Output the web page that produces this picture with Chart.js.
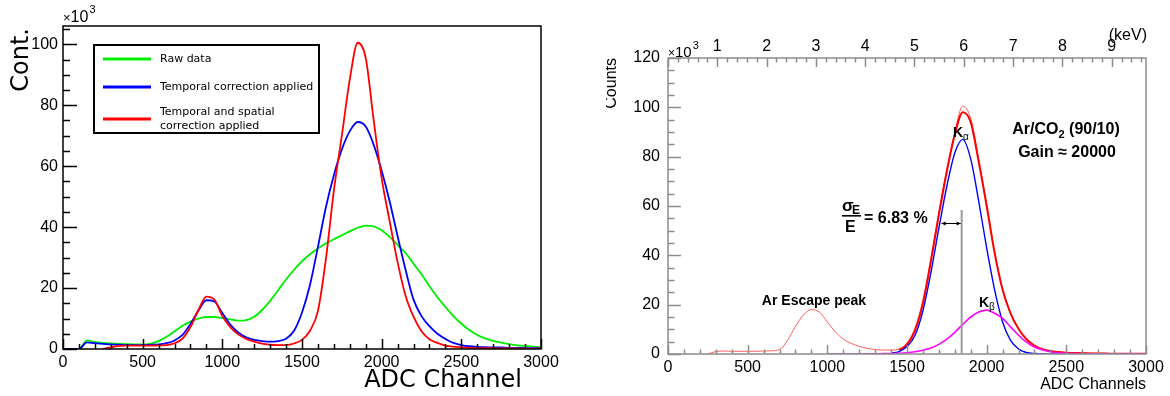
<!DOCTYPE html>
<html>
<head>
<meta charset="utf-8">
<title>ADC spectra</title>
<script src="https://cdn.jsdelivr.net/npm/chart.js@4.4.1/dist/chart.umd.min.js"></script>
<style>
  html, body { margin: 0; padding: 0; background: #fff; }
  body { width: 1170px; height: 396px; position: relative; overflow: hidden; }
  .panel { position: absolute; top: 0; height: 396px; }
  #leftWrap  { left: 0;     width: 606px; }
  #rightWrap { left: 606px; width: 564px; overflow: hidden; }
</style>
</head>
<body>
<div class="panel" id="leftWrap"><canvas id="leftChart" width="606" height="396"></canvas></div>
<div class="panel" id="rightWrap"><canvas id="rightChart" width="564" height="396"></canvas></div>
<script>
/* ═══════════════════════════════════════════
   ADC SPECTRA — two ROOT-style panels
═══════════════════════════════════════════ */

/* ── Data (counts in units of 10^3) ── */
const adcBins = [
  0, 50, 100, 150, 200, 250, 300, 350, 400, 450,
  500, 550, 600, 650, 700, 750, 800, 850, 900, 950,
  1000, 1050, 1100, 1150, 1200, 1250, 1300, 1350, 1400, 1450,
  1500, 1550, 1600, 1650, 1700, 1750, 1800, 1850, 1900, 1950,
  2000, 2050, 2100, 2150, 2200, 2250, 2300, 2350, 2400, 2450,
  2500, 2550, 2600, 2650, 2700, 2750, 2800, 2850, 2900, 2950,
  3000
];

// left panel
const rawData = [
  0, 0, 0, 2.8, 2.3, 2.0, 1.8, 1.7, 1.6, 1.5,
  1.5, 1.8, 2.6, 4.0, 5.8, 7.6, 9.0, 10.0, 10.5, 10.5,
  10.1, 9.7, 9.3, 9.5, 10.6, 12.8, 15.8, 19.3, 22.8, 26.0,
  28.8, 31.1, 33.0, 34.6, 36.0, 37.3, 38.6, 39.8, 40.5, 40.2,
  39.0, 36.8, 34.2, 31.5, 28.0, 24.5, 20.6, 17.0, 13.8, 10.8,
  8.3, 6.2, 4.6, 3.5, 2.7, 2.1, 1.6, 1.2, 1.0, 0.8,
  0.6
];
const temporalCorr = [
  0, 0, 0, 2.2, 1.9, 1.7, 1.5, 1.4, 1.3, 1.3,
  1.3, 1.4, 1.5, 1.9, 2.8, 4.6, 8.2, 12.6, 16.0, 15.6,
  11.8, 8.0, 5.4, 3.8, 3.0, 2.6, 2.4, 2.6, 3.4, 6.0,
  12.0, 21.0, 33.5, 46.5, 57.0, 65.5, 71.5, 74.5, 73.0, 67.0,
  58.5, 48.5, 37.0, 26.0, 16.2, 10.8, 7.5, 5.0, 3.3, 2.0,
  1.3, 0.9, 0.7, 0.6, 0.5, 0.5, 0.4, 0.4, 0.3, 0.3,
  0.3
];
const temporalSpatialCorr = [
  null, null, null, null, null, 0, 0.5, 1.0, 1.1, 1.1,
  1.1, 1.1, 1.2, 1.3, 1.9, 3.4, 7.2, 12.8, 17.2, 16.2,
  10.8, 7.2, 4.8, 3.3, 2.4, 1.8, 1.4, 1.3, 1.3, 1.8,
  3.0, 6.0, 12.5, 29.5, 52.0, 70.0, 88.5, 100.5, 95.5, 75.0,
  56.0, 42.0, 28.5, 17.5, 10.6, 5.8, 3.2, 2.0, 1.1, 0.8,
  0.5, 0.4, 0.3, 0.3, 0.2, 0.2, 0.2, 0.2, 0.1, 0.1,
  0.1
];

// right panel
const measured = [
  null, null, null, null, null, 0, 1.0, 1.2, 1.1, 1.1,
  1.1, 1.1, 1.2, 1.3, 1.8, 5.5, 11.2, 15.8, 18.0, 17.0,
  13.0, 9.0, 6.0, 4.3, 3.1, 2.3, 1.8, 1.6, 1.6, 2.0,
  4.5, 10.5, 22.0, 39.0, 57.5, 75.0, 90.0, 100.5, 95.5, 79.0,
  61.0, 41.5, 26.5, 16.5, 10.2, 6.0, 3.5, 2.0, 1.3, 0.9,
  0.6, 0.5, 0.4, 0.3, 0.3, 0.2, 0.2, 0.2, 0.1, 0.1,
  0.1
];
const fitTotal = [
  null, null, null, null, null, null, null, null, null, null,
  null, null, null, null, null, null, null, null, null, null,
  null, null, null, null, null, null, null, null, null, 1.6,
  3.8, 9.5, 20.5, 37.5, 56.5, 74.0, 89.0, 98.0, 94.0, 78.0,
  60.0, 41.0, 26.0, 16.5, 10.2, 6.0, 3.4, 1.9, 1.2, 0.8,
  0.5, 0.4, 0.3, 0.2, 0.2, 0.2, 0.1, 0.1, 0.1, 0.1,
  0.1
];
const fitKalpha = [
  null, null, null, null, null, null, null, null, null, null,
  null, null, null, null, null, null, null, null, null, null,
  null, null, null, null, null, null, null, null, 0.3, 1.0,
  3.0, 7.5, 17.5, 33.0, 51.0, 68.0, 81.5, 87.0, 79.0, 62.0,
  43.0, 26.0, 13.0, 5.5, 2.0, 0.6, 0.2, 0.1, 0, 0,
  0, null, null, null, null, null, null, null, null, null,
  null
];
const fitKbeta = [
  null, null, null, null, null, null, null, null, null, null,
  null, null, null, null, null, null, null, null, null, null,
  0, 0, 0, 0, 0, 0.05, 0.1, 0.15, 0.2, 0.3,
  0.5, 0.9, 1.5, 2.4, 3.9, 6.0, 8.8, 12.0, 15.0, 17.0,
  17.8, 16.5, 14.4, 11.0, 7.6, 4.8, 2.8, 1.7, 0.9, 0.5,
  0.3, 0.2, 0.1, 0.1, 0.1, 0.1, 0.1, 0.1, 0.1, 0.1,
  0.1
];

/* ── Tick labels ── */
const adcTicks    = [0, 500, 1000, 1500, 2000, 2500, 3000];
const leftYTicks  = [0, 20, 40, 60, 80, 100];
const rightYTicks = [0, 20, 40, 60, 80, 100, 120];
const kevTicks    = [1, 2, 3, 4, 5, 6, 7, 8, 9];
const ADC_PER_KEV = 309.4;

/* ── Fit result shown on the right panel ── */
const KA_MEAN = 1843;        // ADC
const KA_RES  = 0.0683;      // sigma_E / E

const RX = 606;              // left edge of right canvas on the page
const SANS = "'Liberation Sans', Arial, sans-serif";
const DEJA = "'DejaVu Sans', sans-serif";

const pts = arr => adcBins.map((x, i) => ({ x, y: arr[i] }));

/* ── ROOT-like frame with inward ticks ── */
function rootAxes(cfg) {
  return {
    id: 'rootAxes',
    afterDatasetsDraw(chart) {
      const { ctx, chartArea: a, scales } = chart;
      const seg = (x1, y1, x2, y2) => { ctx.beginPath(); ctx.moveTo(x1, y1); ctx.lineTo(x2, y2); ctx.stroke(); };
      ctx.save();
      ctx.strokeStyle = cfg.color;
      ctx.lineWidth = cfg.width;
      ctx.strokeRect(a.left, a.top, a.right - a.left, a.bottom - a.top);

      for (let v = 0; v <= 3000; v += 100) {
        const px = Math.round(scales.x.getPixelForValue(v)) + 0.5;
        seg(px, a.bottom, px, a.bottom - (v % 500 ? cfg.xLen / 2 : cfg.xLen));
      }
      for (let v = 0; v <= scales.y.max; v += 5) {
        const py = Math.round(scales.y.getPixelForValue(v)) + 0.5;
        seg(a.left, py, a.left + (v % 20 ? cfg.yLen / 2 : cfg.yLen), py);
      }
      if (scales.kev) {
        for (let i = 0; i * 0.2 <= scales.kev.max; i++) {
          const px = Math.round(scales.kev.getPixelForValue(i * 0.2)) + 0.5;
          seg(px, a.top, px, a.top + (i % 5 ? cfg.xLen / 2 : cfg.xLen));
        }
      }
      ctx.restore();
    }
  };
}

// "×10^3" multiplier
function drawExp(ctx, x, base, size) {
  ctx.textAlign = 'left';
  ctx.textBaseline = 'alphabetic';
  ctx.font = `${Math.round(size * 0.8)}px ${SANS}`;
  ctx.fillText('×', x, base);
  x += ctx.measureText('×').width;
  ctx.font = `${size}px ${SANS}`;
  ctx.fillText('10', x, base);
  x += ctx.measureText('10').width + 1;
  ctx.font = `${Math.round(size * 0.7)}px ${SANS}`;
  ctx.fillText('3', x, base - size * 0.55);
}

const baseOptions = (padding) => ({
  responsive: false,
  animation: false,
  devicePixelRatio: 1,
  layout: { padding },
  plugins: { legend: { display: false }, tooltip: { enabled: false } },
  elements: { point: { radius: 0 } }
});

const tickFont = { family: SANS, size: 16 };

/* ── Left panel ── */
const leftSeries = [
  { label: 'Raw data',                      data: rawData,             color: '#00ee00' },
  { label: 'Temporal correction applied',   data: temporalCorr,        color: '#0000ff' },
  { label: 'Temporal and spatial\ncorrection applied', data: temporalSpatialCorr, color: '#ff0000' }
];

const leftText = {
  id: 'leftText',
  afterDraw(chart) {
    const ctx = chart.ctx;
    ctx.save();
    ctx.fillStyle = '#000';
    drawExp(ctx, 63, 22, 16);

    ctx.font = `24px ${DEJA}`;
    ctx.textBaseline = 'alphabetic';
    ctx.save();
    ctx.translate(28, 28);
    ctx.rotate(-Math.PI / 2);
    ctx.textAlign = 'right';
    ctx.fillText('Cont.', 0, 0);
    ctx.restore();
    ctx.textAlign = 'right';
    ctx.fillText('ADC Channel', 522, 387);

    // legend box
    ctx.fillStyle = '#fff';
    ctx.fillRect(94, 45, 225, 88);
    ctx.strokeStyle = '#000';
    ctx.lineWidth = 2;
    ctx.strokeRect(94, 45, 225, 88);
    const rowY = [59, 87, 119];
    ctx.font = `11px ${DEJA}`;
    ctx.textAlign = 'left';
    ctx.textBaseline = 'middle';
    leftSeries.forEach((s, i) => {
      ctx.strokeStyle = s.color;
      ctx.lineWidth = 3;
      ctx.beginPath(); ctx.moveTo(103, rowY[i]); ctx.lineTo(151, rowY[i]); ctx.stroke();
      ctx.fillStyle = '#000';
      const lines = s.label.split('\n');
      lines.forEach((t, j) => ctx.fillText(t, 160, rowY[i] + (j - (lines.length - 1) / 2) * 14));
    });
    ctx.restore();
  }
};

new Chart(document.getElementById('leftChart'), {
  type: 'line',
  data: {
    datasets: leftSeries.map((s, i) => ({
      label: s.label,
      data: pts(s.data),
      borderColor: s.color,
      borderWidth: 1.8,
      cubicInterpolationMode: 'monotone',
      order: leftSeries.length - i
    }))
  },
  options: {
    ...baseOptions({ left: 0, right: 65, top: 26, bottom: 0 }),
    scales: {
      x: {
        type: 'linear', position: 'bottom', min: 0, max: 3000,
        afterBuildTicks: ax => { ax.ticks = adcTicks.map(value => ({ value })); },
        afterFit: ax => { ax.height = 47; },
        grid: { display: false, drawTicks: false }, border: { display: false },
        ticks: { padding: 4, font: tickFont, color: '#000', maxRotation: 0, callback: v => String(v) }
      },
      y: {
        type: 'linear', position: 'left', min: 0, max: 106,
        afterBuildTicks: ax => { ax.ticks = leftYTicks.map(value => ({ value })); },
        afterFit: ax => { ax.width = 63; },
        grid: { display: false, drawTicks: false }, border: { display: false },
        ticks: { padding: 5, font: tickFont, color: '#000', callback: v => String(v) }
      }
    }
  },
  plugins: [rootAxes({ color: '#000', width: 1.5, xLen: 10, yLen: 14 }), leftText]
});

/* ── Right panel ── */
const rightText = {
  id: 'rightText',
  afterDraw(chart) {
    const { ctx, scales: { x, y } } = chart;
    const L = v => v - RX;
    ctx.save();
    ctx.fillStyle = '#000';

    drawExp(ctx, L(668), 57, 15);

    // axis titles
    ctx.font = `16px ${SANS}`;
    ctx.textBaseline = 'alphabetic';
    ctx.textAlign = 'right';
    ctx.fillText('ADC Channels', L(1146), 389);
    ctx.fillText('(keV)', L(1147), 40);
    ctx.save();
    ctx.translate(L(616), 58);        // partly cut by the pad edge, as in the original
    ctx.rotate(-Math.PI / 2);
    ctx.fillText('Counts', 0, 0);
    ctx.restore();

    // gas / gain
    ctx.font = `bold 16px ${SANS}`;
    const w1 = ctx.measureText('Ar/CO').width;
    ctx.font = `bold 11px ${SANS}`;
    const w2 = ctx.measureText('2').width;
    ctx.font = `bold 16px ${SANS}`;
    const w3 = ctx.measureText(' (90/10)').width;
    let gx = L(1066) - (w1 + w2 + w3) / 2;
    ctx.textAlign = 'left';
    ctx.fillText('Ar/CO', gx, 134);
    ctx.font = `bold 11px ${SANS}`;
    ctx.fillText('2', gx + w1, 138);
    ctx.font = `bold 16px ${SANS}`;
    ctx.fillText(' (90/10)', gx + w1 + w2, 134);
    ctx.textAlign = 'center';
    ctx.fillText('Gain \u2248 20000', L(1067), 157);

    // peak labels
    const kLabel = (px, base, sub) => {
      ctx.textAlign = 'left';
      ctx.font = `bold 14px ${SANS}`;
      ctx.fillText('K', px, base);
      const kw = ctx.measureText('K').width;
      ctx.font = `10px ${SANS}`;
      ctx.fillText(sub, px + kw, base + 3);
    };
    kLabel(L(953), 137, '\u03b1');
    kLabel(L(979), 307, '\u03b2');

    ctx.font = `bold 14px ${SANS}`;
    ctx.textAlign = 'center';
    ctx.fillText('Ar Escape peak', L(814), 305);

    // resolution: sigma_E / E = 6.83 %
    ctx.textAlign = 'left';
    ctx.font = `bold 17px ${SANS}`;
    ctx.fillText('\u03c3', L(842), 211);
    ctx.font = `bold 12px ${SANS}`;
    ctx.fillText('E', L(852), 214);
    ctx.fillRect(L(842), 215, 19, 1.6);
    ctx.font = `bold 16px ${SANS}`;
    ctx.fillText('E', L(845), 232);
    ctx.fillText('= 6.83 %', L(864), 223);

    // sigma marker: vertical line at the K-alpha mean, arrow of one sigma
    const xm = x.getPixelForValue(KA_MEAN);
    const xs = x.getPixelForValue(KA_MEAN * (1 - KA_RES));
    ctx.strokeStyle = '#9a9a9a';
    ctx.lineWidth = 2;
    ctx.beginPath(); ctx.moveTo(xm, y.getPixelForValue(58.4)); ctx.lineTo(xm, y.getPixelForValue(0)); ctx.stroke();
    const ya = Math.round(y.getPixelForValue(53.3)) + 0.5;
    ctx.strokeStyle = '#000';
    ctx.lineWidth = 1;
    ctx.beginPath(); ctx.moveTo(xs, ya); ctx.lineTo(xm - 1, ya); ctx.stroke();
    ctx.beginPath();
    ctx.moveTo(xs, ya); ctx.lineTo(xs + 4, ya - 2); ctx.lineTo(xs + 4, ya + 2); ctx.closePath();
    ctx.moveTo(xm - 1, ya); ctx.lineTo(xm - 5, ya - 2); ctx.lineTo(xm - 5, ya + 2); ctx.closePath();
    ctx.fill();
    ctx.restore();
  }
};

const rightSeries = [
  { label: 'Data',        data: measured,  color: 'rgba(255,40,40,0.75)', width: 1 },
  { label: 'Total fit',   data: fitTotal,  color: '#ff0000', width: 2 },
  { label: 'K-alpha',     data: fitKalpha, color: '#0000ff', width: 1.4 },
  { label: 'K-beta',      data: fitKbeta,  color: '#ff00ff', width: 1.6 }
];

new Chart(document.getElementById('rightChart'), {
  type: 'line',
  data: {
    datasets: rightSeries.map((s, i) => ({
      label: s.label,
      data: pts(s.data),
      borderColor: s.color,
      borderWidth: s.width,
      cubicInterpolationMode: 'monotone',
      order: rightSeries.length - i
    }))
  },
  options: {
    ...baseOptions({ left: 0, right: 24, top: 0, bottom: 0 }),
    scales: {
      x: {
        type: 'linear', position: 'bottom', min: 0, max: 3000,
        afterBuildTicks: ax => { ax.ticks = adcTicks.map(value => ({ value })); },
        afterFit: ax => { ax.height = 42; },
        grid: { display: false, drawTicks: false }, border: { display: false },
        ticks: { padding: 4, font: tickFont, color: '#000', maxRotation: 0, callback: v => String(v) }
      },
      kev: {
        type: 'linear', position: 'top', min: 0, max: 3000 / ADC_PER_KEV,
        afterBuildTicks: ax => { ax.ticks = kevTicks.map(value => ({ value })); },
        afterFit: ax => { ax.height = 58; },
        grid: { display: false, drawTicks: false }, border: { display: false },
        ticks: { padding: 2, font: tickFont, color: '#000', maxRotation: 0, callback: v => String(v) }
      },
      y: {
        type: 'linear', position: 'left', min: 0, max: 120,
        afterBuildTicks: ax => { ax.ticks = rightYTicks.map(value => ({ value })); },
        afterFit: ax => { ax.width = 62; },
        grid: { display: false, drawTicks: false }, border: { display: false },
        ticks: { padding: 8, font: tickFont, color: '#000', callback: v => String(v) }
      }
    }
  },
  plugins: [rootAxes({ color: '#8c8c8c', width: 1.5, xLen: 9, yLen: 13 }), rightText]
});
</script>
</body>
</html>
